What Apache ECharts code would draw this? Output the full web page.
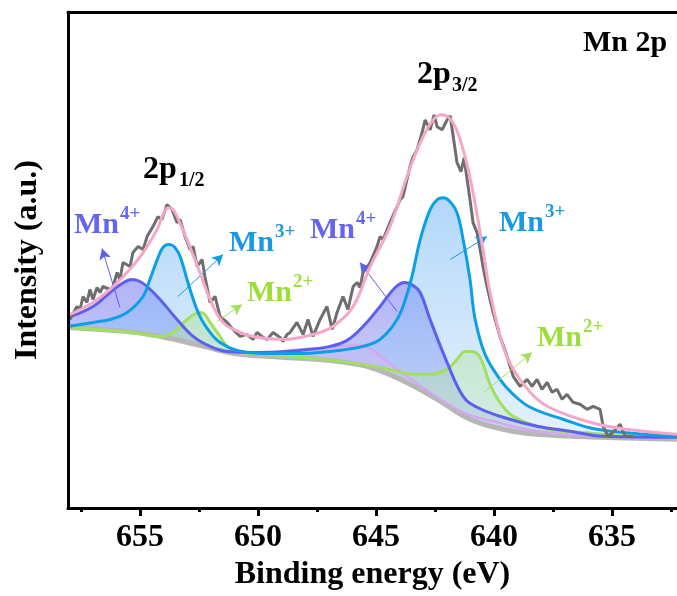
<!DOCTYPE html>
<html><head><meta charset="utf-8">
<script src="https://cdn.jsdelivr.net/npm/echarts@6/dist/echarts.min.js"></script>
<style>html,body{margin:0;padding:0;background:#fff}#c{width:677px;height:596px}</style>
</head><body><div id="c"></div>
<script>
// ---- data (binding energy in eV, intensity in a.u.) ----
const xTicks = [655, 650, 645, 640, 635];
const xMinorTicks = [657.5, 652.5, 647.5, 642.5, 637.5, 632.5];

const rawBE = [657.97,657.67,657.54,657.41,657.25,657.12,656.99,656.82,656.69,656.57,656.27,656.14,655.97,655.85,655.72,655.42,655.30,655.08,654.87,654.70,654.45,654.24,654.07,653.86,653.64,653.43,653.30,653.09,652.88,652.75,652.58,652.37,652.25,652.03,651.82,651.61,651.31,651.06,650.76,650.47,650.21,650.04,649.79,649.62,649.36,649.07,648.94,648.77,648.64,648.35,648.09,647.88,647.67,647.37,647.08,646.86,646.65,646.40,646.19,645.97,645.80,645.68,645.55,645.25,644.96,644.83,644.70,644.41,644.11,643.98,643.86,643.56,643.43,643.26,643.05,642.92,642.71,642.54,642.41,642.20,641.99,641.86,641.74,641.57,641.40,641.27,641.14,641.02,640.89,640.72,640.59,640.47,640.30,640.04,639.75,639.45,639.19,638.90,638.60,638.39,638.18,637.97,637.75,637.54,637.33,637.12,636.91,636.65,636.36,636.06,635.80,635.51,635.38,635.17,634.96,634.66,634.45,634.11];
const rawI = [189,202,199,212,206,219,209,221,216,222,219,222,236,229,246,242,256,262,259,272,282,292,289,304,299,286,289,272,259,262,242,249,232,206,212,192,186,179,172,174,169,176,171,169,176,171,167,174,176,186,174,189,172,189,202,179,196,212,199,222,226,221,236,246,262,272,269,286,302,309,312,342,352,359,376,389,379,394,382,379,389,393,374,346,337,351,329,309,286,276,259,242,222,196,172,152,132,122,129,122,129,119,126,116,119,109,114,106,104,99,102,99,82,72,76,84,72,72];

const envBE = [658.05,656.99,656.27,655.55,654.87,654.28,654.02,653.81,653.60,653.43,653.01,652.46,652.03,651.48,650.76,650.21,649.62,648.77,648.22,647.37,646.82,645.97,645.25,644.41,643.69,643.13,642.58,642.20,641.74,641.31,640.89,640.47,640.17,639.62,639.19,638.47,637.75,636.36,634.96,632.25];
const envI = [193,206,219,236,256,279,294,301,299,292,269,236,209,186,176,172,170,169,171,176,182,202,242,282,332,366,389,394,386,359,316,259,216,162,139,116,102,89,81,74];

const mn4BE = [658.05,656.99,656.27,655.76,655.34,655.00,654.70,654.15,653.43,652.75,652.03,651.31,649.91,648.22,646.95,646.23,645.55,644.83,644.19,643.77,643.43,643.13,642.71,641.99,641.31,640.72,639.62,638.18,636.78,635.38,632.25];
const mn4I = [191,202,216,225,229,227,222,209,189,172,162,157,156,158,162,168,182,202,221,226,223,216,189,146,112,101,91,82,77,72,71];

const mn3BE = [658.05,656.99,656.27,655.55,654.87,654.58,654.15,653.94,653.73,653.52,653.30,652.88,652.46,652.03,651.61,650.89,649.91,648.22,646.95,646.23,645.55,644.83,644.11,643.69,643.43,643.13,642.71,642.41,642.16,641.86,641.57,641.31,641.02,640.80,640.38,639.75,639.19,638.47,637.08,635.64,632.25];
const mn3I = [182,186,189,196,212,229,256,263,264,261,252,219,192,176,166,158,155,155,157,159,162,169,189,214,237,269,299,309,311,307,296,269,229,189,154,129,114,101,89,79,72];

const mn2BE = [658.05,655.30,654.15,653.60,653.01,652.46,652.25,652.03,651.61,651.31,650.76,649.91,648.22,646.53,644.83,644.11,643.43,642.71,641.99,641.57,641.23,640.93,640.59,640.17,639.75,639.19,637.75,636.36,634.24,632.25];
const mn2I = [181,176,172,176,189,196,194,186,172,162,156,154,151,147,141,137,134,134,139,149,157,157,151,124,106,92,79,76,72,71];

const satBE = [650.76,649.36,648.22,646.95,646.10,645.68,645.25,644.11,642.71,641.31,639.87,638.18,635.51,632.25];
const satI = [154,156,159,161,163,163,160,139,116,96,86,77,72,70];

const bgBE = [658.05,656.69,654.58,652.46,651.06,649.62,648.22,646.65,645.25,643.98,642.41,641.02,639.62,638.18,635.51,632.25];
const bgI = [181,179,174,163,155,152,150,147,141,129,109,89,79,74,71,69];

// annotation arrows: [fromBE, fromI, toBE, toI, species]
const arrows = [
  [655.85, 201, 656.61, 260, 'Mn4'],
  [653.39, 212, 651.48, 254, 'Mn3'],
  [651.74, 187, 650.68, 204, 'Mn2'],
  [644.11, 197, 645.68, 246, 'Mn4'],
  [641.86, 249, 640.30, 272, 'Mn3'],
  [640.42, 116, 638.39, 156, 'Mn2']
];

// ---- styles ----
const C = { Mn4: '#5d60ee', Mn3: '#0c9fe6', Mn2: '#a2df5e', sat: '#d6a6f2', env: '#f5a6c9', raw: '#6e6e6e', bg: '#b6b6b6' };
const LBL = { Mn4: '#6466ee', Mn3: '#1b9ae4', Mn2: '#9ddf3a' };
const FONT = '"Liberation Serif", "Times New Roman", serif';
const SMOOTH = 0.4;

const zip = (a, b) => a.map((v, i) => [v, b[i]]);
const grad = (c0, c1) => new echarts.graphic.LinearGradient(0, 0, 0, 1, [{offset: 0, color: c0}, {offset: 1, color: c1}]);

function fillSeries(be, it, color) {
  return { type: 'line', data: zip(be, it), showSymbol: false, smooth: SMOOTH, z: 1,
    lineStyle: { width: 0 }, areaStyle: { color: color, opacity: 1 }, silent: true };
}
function lineSeries(be, it, color, width, smooth, z) {
  return { type: 'line', data: zip(be, it), showSymbol: false, smooth: smooth, z: z || 3,
    lineStyle: { color: color, width: width }, silent: true };
}

const chart = echarts.init(document.getElementById('c'), null, { renderer: 'canvas' });

const markData = arrows.map(a => [
  { coord: [a[0], a[1]], lineStyle: { color: C[a[4]], width: 1, type: 'solid' } },
  { coord: [a[2], a[3]] }
]);

function ion(x, y, charge, key) {
  return [
    { type: 'text', x: x, y: y, z: 100, style: { text: 'Mn', font: 'bold 30px ' + FONT, fill: LBL[key], align: 'left', verticalAlign: 'middle', textAlign: 'left', textVerticalAlign: 'middle' } },
    { type: 'text', x: x + 46, y: y - 11, z: 100, style: { text: charge, font: 'bold 19px ' + FONT, fill: LBL[key], align: 'left', verticalAlign: 'middle', textAlign: 'left', textVerticalAlign: 'middle' } }
  ];
}
function txt(t, x, y, size) {
  return { type: 'text', x: x, y: y, z: 100, style: { text: t, font: 'bold ' + size + 'px ' + FONT, fill: '#000', align: 'left', verticalAlign: 'middle', textAlign: 'left', textVerticalAlign: 'middle' } };
}

const graphics = [
  txt('Mn 2p', 583, 43, 30),
  txt('2p', 143, 170, 32), txt('1/2', 179, 181, 20),
  txt('2p', 417, 75, 32), txt('3/2', 452, 86, 20),
  ...ion(74, 225, '4+', 'Mn4'),
  ...ion(229, 243, '3+', 'Mn3'),
  ...ion(247, 293, '2+', 'Mn2'),
  ...ion(310, 230, '4+', 'Mn4'),
  ...ion(499, 223, '3+', 'Mn3'),
  ...ion(537, 338, '2+', 'Mn2')
];

const axisCommon = { type: 'value', min: 632.25, max: 658.05, inverse: true, splitLine: { show: false }, z: 10 };

chart.setOption({
  animation: false,
  backgroundColor: '#fff',
  grid: { left: 68, right: 0, top: 12, bottom: 87 },
  xAxis: [
    Object.assign({}, axisCommon, {
      position: 'bottom',
      axisLine: { show: true, onZero: false, lineStyle: { color: '#000', width: 3 } },
      axisTick: { show: true, customValues: xTicks, length: 8, inside: false, lineStyle: { color: '#000', width: 3 } },
      axisLabel: { show: true, customValues: xTicks, margin: 14, color: '#000', fontSize: 32, fontWeight: 'bold', fontFamily: FONT },
      name: 'Binding energy (eV)', nameLocation: 'middle', nameGap: 50,
      nameTextStyle: { color: '#000', fontSize: 32, fontWeight: 'bold', fontFamily: FONT }
    }),
    Object.assign({}, axisCommon, {
      position: 'bottom',
      axisLine: { show: false, onZero: false },
      axisTick: { show: true, customValues: xMinorTicks, length: 4, inside: false, lineStyle: { color: '#000', width: 3 } },
      axisLabel: { show: false }
    }),
    Object.assign({}, axisCommon, {
      position: 'top',
      axisLine: { show: true, onZero: false, lineStyle: { color: '#000', width: 3 } },
      axisTick: { show: false }, axisLabel: { show: false }
    })
  ],
  yAxis: {
    type: 'value', min: 0, max: 497, z: 10,
    axisLine: { show: true, onZero: false, lineStyle: { color: '#000', width: 3 } },
    axisTick: { show: false }, axisLabel: { show: false }, splitLine: { show: false },
    name: 'Intensity (a.u.)', nameLocation: 'middle', nameGap: 24, nameRotate: 90,
    nameTextStyle: { color: '#000', fontSize: 32, fontWeight: 'bold', fontFamily: FONT }
  },
  series: [
    fillSeries(mn4BE, mn4I, grad('rgba(112,116,240,0.55)', 'rgba(150,155,240,0.25)')),
    fillSeries(mn3BE, mn3I, grad('rgba(100,175,245,0.50)', 'rgba(170,210,250,0.20)')),
    fillSeries(mn2BE, mn2I, grad('rgba(170,225,140,0.45)', 'rgba(200,235,190,0.25)')),
    fillSeries(satBE, satI, grad('rgba(215,180,245,0.45)', 'rgba(225,200,250,0.25)')),
    { type: 'line', data: zip(bgBE, bgI), showSymbol: false, smooth: SMOOTH, z: 2,
      lineStyle: { width: 0 }, areaStyle: { color: '#ffffff', opacity: 1 }, silent: true },
    lineSeries(bgBE, bgI, C.bg, 5, SMOOTH, 3),
    lineSeries(satBE, satI, C.sat, 2.5, SMOOTH, 3),
    lineSeries(mn2BE, mn2I, C.Mn2, 3, SMOOTH, 3),
    lineSeries(mn4BE, mn4I, C.Mn4, 3, SMOOTH, 3),
    lineSeries(mn3BE, mn3I, C.Mn3, 3, SMOOTH, 3),
    lineSeries(rawBE, rawI, C.raw, 3, false, 4),
    Object.assign(lineSeries(envBE, envI, C.env, 3, SMOOTH, 5), {
      markLine: { silent: true, symbol: ['none', 'arrow'], symbolSize: [9, 11], label: { show: false },
        animation: false, data: markData }
    })
  ],
  graphic: graphics
});
</script>
</body></html>
